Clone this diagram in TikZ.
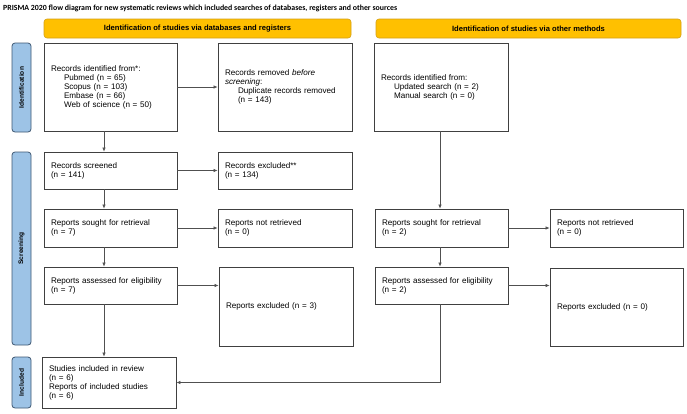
\documentclass[tikz,border=0pt]{standalone}
\usepackage{fontspec}
\setmainfont{Liberation Sans}
\newfontfamily\titlefont{Carlito}
\usetikzlibrary{arrows.meta,calc}
\definecolor{hdrfill}{HTML}{FFC000}
\definecolor{hdrdraw}{HTML}{D4A017}
\definecolor{barfill}{HTML}{9DC3E6}
\definecolor{bardraw}{HTML}{3F5873}
\definecolor{boxdraw}{HTML}{404040}
\definecolor{arrdraw}{HTML}{505050}
\begin{document}
\begin{tikzpicture}[x=1pt,y=-1pt,
 box/.style={draw=boxdraw,line width=0.85pt,fill=white,inner sep=0pt,align=left,font=\fontsize{8.1}{9}\selectfont},
 hdr/.style={draw=hdrdraw,fill=hdrfill,rounded corners=3pt,line width=0.6pt,font=\bfseries\fontsize{7.6}{9}\selectfont,inner sep=0pt},
 bar/.style={draw=bardraw,fill=barfill,rounded corners=3pt,line width=0.8pt,inner sep=0pt,rotate=90,font=\bfseries\fontsize{6.6}{8}\selectfont},
 arr/.style={draw=arrdraw,line width=0.6pt,-{Latex[length=4pt,width=3.5pt]}},
 ln/.style={draw=arrdraw,line width=0.6pt}
]
\useasboundingbox (0,0) rectangle (687,413);
\newcommand\ind{\hspace*{13pt}}

\node[anchor=west,inner sep=0pt,font=\titlefont\bfseries\fontsize{7.85}{9}\selectfont] (title) at (3,8) {PRISMA 2020 flow diagram for new systematic reviews which included searches of databases, registers and other sources};

\node[hdr,minimum width=307pt,minimum height=19pt] (hdrL) at (197.5,28.5) {Identification of studies via databases and registers};
\node[hdr,minimum width=305pt,minimum height=19pt] (hdrR) at (528.5,28.5) {Identification of studies via other methods};

\node[bar,minimum width=89pt,minimum height=19pt] (barI) at (21.5,87.5) {Identification};
\node[bar,minimum width=193pt,minimum height=19pt] (barS) at (21.5,248.5) {Screening};
\node[bar,minimum width=51pt,minimum height=19pt] (barN) at (21.5,382.5) {Included};

\node[box,minimum width=133pt,minimum height=88pt,text width=119pt] (ident) at (110.5,87) {Records identified from*:\\\ind Pubmed (n = 65)\\\ind Scopus (n = 103)\\\ind Embase (n = 66)\\\ind Web of science (n = 50)};
\node[box,minimum width=134pt,minimum height=88pt,text width=120pt] (removed) at (285,87) {Records removed \textit{before}\\\textit{screening}:\\\ind Duplicate records removed\\\ind (n = 143)};
\node[box,minimum width=134pt,minimum height=88pt,text width=120pt] (other) at (441,87) {Records identified from:\\\ind Updated search (n = 2)\\\ind Manual search (n = 0)};

\node[box,minimum width=133pt,minimum height=37pt,text width=119pt] (screened) at (110.5,170.5) {Records screened\\(n = 141)};
\node[box,minimum width=134pt,minimum height=37pt,text width=120pt] (excluded) at (285,170.5) {Records excluded**\\(n = 134)};

\node[box,minimum width=133pt,minimum height=38pt,text width=119pt] (soughtL) at (110.5,228) {Reports sought for retrieval\\(n = 7)};
\node[box,minimum width=134pt,minimum height=38pt,text width=120pt] (notretL) at (285,228) {Reports not retrieved\\(n = 0)};
\node[box,minimum width=133pt,minimum height=38pt,text width=119pt] (soughtR) at (441.5,228) {Reports sought for retrieval\\(n = 2)};
\node[box,minimum width=133pt,minimum height=38pt,text width=119pt] (notretR) at (616.5,228) {Reports not retrieved\\(n = 0)};

\node[box,minimum width=133pt,minimum height=37pt,text width=119pt] (assessL) at (110.5,285.5) {Reports assessed for eligibility\\(n = 7)};
\node[box,minimum width=134pt,minimum height=79pt,text width=120pt] (exclL) at (286,306.5) {Reports excluded (n = 3)};
\node[box,minimum width=133pt,minimum height=37pt,text width=119pt] (assessR) at (441.5,285.5) {Reports assessed for eligibility\\(n = 2)};
\node[box,minimum width=133pt,minimum height=78pt,text width=119pt] (exclR) at (616.5,307) {Reports excluded (n = 0)};

\node[box,minimum width=134pt,minimum height=51pt,text width=120pt] (incl) at (109,382.5) {Studies included in review\\(n = 6)\\Reports of included studies\\(n = 6)};

\draw[arr] (ident.east) -- (removed.west);
\draw[arr] ([xshift=-6.5pt]ident.south) -- ([xshift=-6.5pt]screened.north);
\draw[arr] (screened.east) -- (excluded.west);
\draw[arr] ([xshift=-6.5pt]screened.south) -- ([xshift=-6.5pt]soughtL.north);
\draw[arr] (soughtL.east) -- (notretL.west);
\draw[arr] ([xshift=-6.5pt]soughtL.south) -- ([xshift=-6.5pt]assessL.north);
\draw[arr] (assessL.east) -- (assessL.east -| exclL.west);
\draw[arr] ([xshift=-6.5pt]assessL.south) -- ([xshift=-5pt]incl.north);
\draw[arr] ([xshift=-1pt]other.south) -- ([xshift=-1.5pt]soughtR.north);
\draw[arr] (soughtR.east) -- (notretR.west);
\draw[arr] ([xshift=-1.5pt]soughtR.south) -- ([xshift=-1.5pt]assessR.north);
\draw[arr] (assessR.east) -- (assessR.east -| exclR.west);
\draw[arr] ([xshift=-1.5pt]assessR.south) |- (incl.east);
\end{tikzpicture}
\end{document}
